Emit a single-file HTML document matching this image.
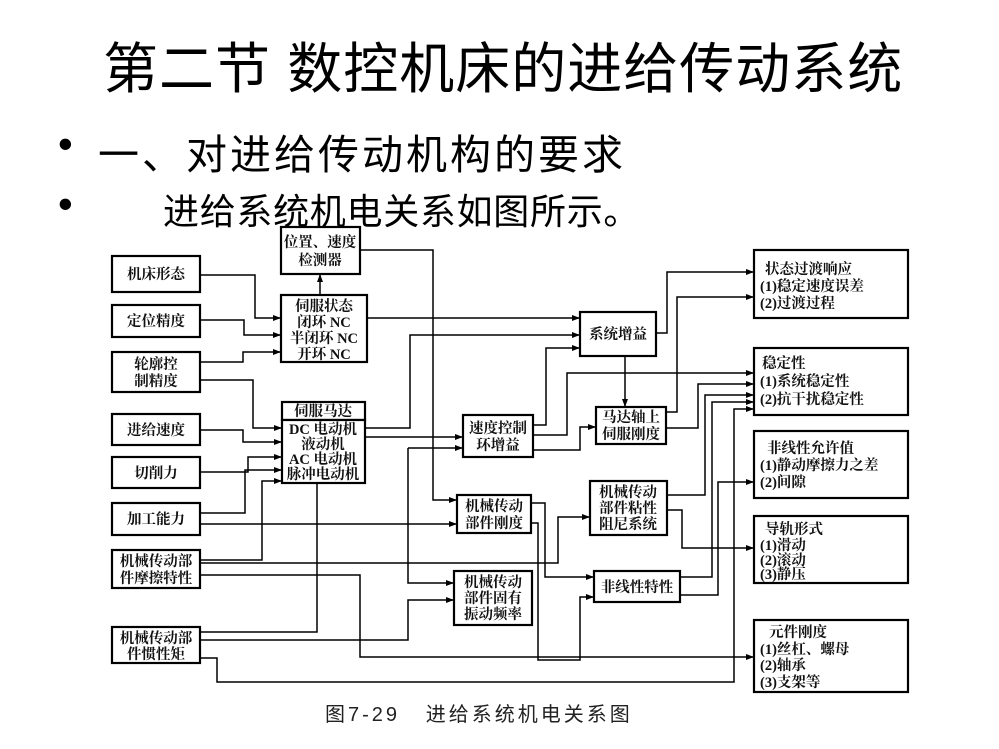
<!DOCTYPE html>
<html><head><meta charset="utf-8"><style>
html,body{margin:0;padding:0;background:#fff;}
body{width:999px;height:749px;overflow:hidden;position:relative;font-family:"Liberation Sans","Noto Sans CJK SC",sans-serif;}
.t{position:absolute;white-space:nowrap;color:#000;font-family:"Liberation Sans","Noto Sans CJK SC",sans-serif;}
svg{position:absolute;left:0;top:0;}
svg text{font-family:"Liberation Serif","Noto Serif CJK SC","Noto Sans CJK SC",serif;font-size:14.5px;font-weight:bold;fill:#111;}
</style></head><body>
<div class="t" style="left:103px;top:24px;font-size:55px;letter-spacing:1px;">第二节 数控机床的进给传动系统</div>
<div class="t" style="left:58px;top:120px;font-size:42px;">•</div>
<div class="t" style="left:98px;top:121px;font-size:41px;letter-spacing:3px;">一、对进给传动机构的要求</div>
<div class="t" style="left:58px;top:180px;font-size:42px;">•</div>
<div class="t" style="left:163px;top:183px;font-size:36px;letter-spacing:0.7px;">进给系统机电关系如图所示。</div>
<div class="t" style="left:325px;top:698px;font-size:20px;letter-spacing:3px;color:#222;">图7-29&nbsp;&nbsp;&nbsp;进给系统机电关系图</div>
<svg width="999" height="749" viewBox="0 0 999 749">
<defs><marker id="a" markerWidth="8" markerHeight="6" refX="8" refY="3" orient="auto" markerUnits="userSpaceOnUse"><path d="M0,0 L8,3 L0,6 z" fill="#000"/></marker></defs>
<g fill="#fff" stroke="#000" stroke-width="2.2">
<rect x="281" y="227" width="79" height="47"/>
<rect x="112" y="256" width="88" height="36"/>
<rect x="112" y="305" width="88" height="32"/>
<rect x="112" y="352" width="88" height="40"/>
<rect x="112" y="414" width="88" height="31"/>
<rect x="112" y="457" width="88" height="31"/>
<rect x="112" y="503" width="88" height="32"/>
<rect x="112" y="550" width="88" height="38"/>
<rect x="112" y="627" width="88" height="36"/>
<rect x="281" y="295" width="86" height="67"/>
<rect x="282" y="402" width="83" height="18"/>
<rect x="282" y="420" width="83" height="63"/>
<rect x="463" y="415" width="70" height="42"/>
<rect x="580" y="312" width="76" height="44"/>
<rect x="596" y="407" width="70" height="37"/>
<rect x="457" y="495" width="74" height="38"/>
<rect x="590" y="481" width="77" height="54"/>
<rect x="454" y="571" width="78" height="54"/>
<rect x="594" y="571" width="86" height="31"/>
<rect x="754" y="250" width="154" height="68"/>
<rect x="754" y="348" width="154" height="67"/>
<rect x="754" y="431" width="154" height="67"/>
<rect x="754" y="516" width="154" height="67"/>
<rect x="754" y="620" width="154" height="72"/>
</g>
<g fill="none" stroke="#000" stroke-width="1.5">
<path d="M200,275 H255 V318 H281" marker-end="url(#a)"/>
<path d="M200,320 H244 V335 H281" marker-end="url(#a)"/>
<path d="M200,362 H243 V352 H281" marker-end="url(#a)"/>
<path d="M200,380 H253 V428 H282" marker-end="url(#a)"/>
<path d="M200,430 H243 V442 H282" marker-end="url(#a)"/>
<path d="M200,472 H248 V457 H282" marker-end="url(#a)"/>
<path d="M200,513 H245 V470 H282" marker-end="url(#a)"/>
<path d="M200,560 H262 V481 H282" marker-end="url(#a)"/>
<path d="M320,295 V274" marker-end="url(#a)"/>
<path d="M360,250 H433 V500 H457" marker-end="url(#a)"/>
<path d="M200,524 H457" marker-end="url(#a)"/>
<path d="M367,318 H580" marker-end="url(#a)"/>
<path d="M365,428 H410 V335 H580" marker-end="url(#a)"/>
<path d="M365,437 H463" marker-end="url(#a)"/>
<path d="M408,448 H463" marker-end="url(#a)"/>
<path d="M408,448 V583 H454" marker-end="url(#a)"/>
<path d="M317,483 V632 H200"/>
<path d="M200,640 H408 V600 H454" marker-end="url(#a)"/>
<path d="M200,658 H217 V682 H734 V409 H754" marker-end="url(#a)"/>
<path d="M200,563 H558 V517 H590" marker-end="url(#a)"/>
<path d="M200,575 H360 V657 H754" marker-end="url(#a)"/>
<path d="M533,425 H546 V348 H580" marker-end="url(#a)"/>
<path d="M533,435 H567 V373 H754" marker-end="url(#a)"/>
<path d="M533,450 H580 V427 H596" marker-end="url(#a)"/>
<path d="M625,356 V407" marker-end="url(#a)"/>
<path d="M656,333 H667 V272 H754" marker-end="url(#a)"/>
<path d="M666,412 H677 V297 H754" marker-end="url(#a)"/>
<path d="M666,428 H698 V384 H754" marker-end="url(#a)"/>
<path d="M667,495 H705 V395 H754" marker-end="url(#a)"/>
<path d="M667,510 H682 V548 H754" marker-end="url(#a)"/>
<path d="M680,577 H712 V402 H754" marker-end="url(#a)"/>
<path d="M680,595 H718 V482 H754" marker-end="url(#a)"/>
<path d="M531,503 H545 V577 H594" marker-end="url(#a)"/>
<path d="M531,523 H538 V660 H580 V597 H594" marker-end="url(#a)"/>
</g>
<g text-anchor="middle">
<text x="320" y="247">位置、速度</text><text x="320" y="265">检测器</text>
<text x="156" y="279">机床形态</text>
<text x="156" y="326">定位精度</text>
<text x="156" y="369">轮廓控</text><text x="156" y="386">制精度</text>
<text x="156" y="435">进给速度</text>
<text x="156" y="478">切削力</text>
<text x="156" y="524">加工能力</text>
<text x="156" y="566">机械传动部</text><text x="156" y="583">件摩擦特性</text>
<text x="156" y="643">机械传动部</text><text x="156" y="659">件惯性矩</text>
<text x="324" y="311">伺服状态</text><text x="324" y="327">闭环 NC</text><text x="324" y="343">半闭环 NC</text><text x="324" y="359">开环 NC</text>
<text x="323" y="416">伺服马达</text>
<text x="323" y="434">DC 电动机</text><text x="323" y="449">液动机</text><text x="323" y="464">AC 电动机</text><text x="323" y="479">脉冲电动机</text>
<text x="498" y="433">速度控制</text><text x="498" y="450">环增益</text>
<text x="618" y="339">系统增益</text>
<text x="631" y="422">马达轴上</text><text x="631" y="439">伺服刚度</text>
<text x="494" y="511">机械传动</text><text x="494" y="528">部件刚度</text>
<text x="628" y="497">机械传动</text><text x="628" y="513">部件粘性</text><text x="628" y="529">阻尼系统</text>
<text x="493" y="587">机械传动</text><text x="493" y="603">部件固有</text><text x="493" y="619">振动频率</text>
<text x="637" y="592">非线性特性</text>
</g>
<g>
<text x="765" y="274">状态过渡响应</text><text x="760" y="291">(1)稳定速度误差</text><text x="760" y="308">(2)过渡过程</text>
<text x="762" y="368">稳定性</text><text x="760" y="386">(1)系统稳定性</text><text x="760" y="404">(2)抗干扰稳定性</text>
<text x="767" y="453">非线性允许值</text><text x="760" y="470">(1)静动摩擦力之差</text><text x="760" y="487">(2)间隙</text>
<text x="765" y="534">导轨形式</text><text x="760" y="550">(1)滑动</text><text x="760" y="565">(2)滚动</text><text x="760" y="579">(3)静压</text>
<text x="769" y="637">元件刚度</text><text x="760" y="654">(1)丝杠、螺母</text><text x="760" y="670">(2)轴承</text><text x="760" y="687">(3)支架等</text>
</g>
</svg>
</body></html>
